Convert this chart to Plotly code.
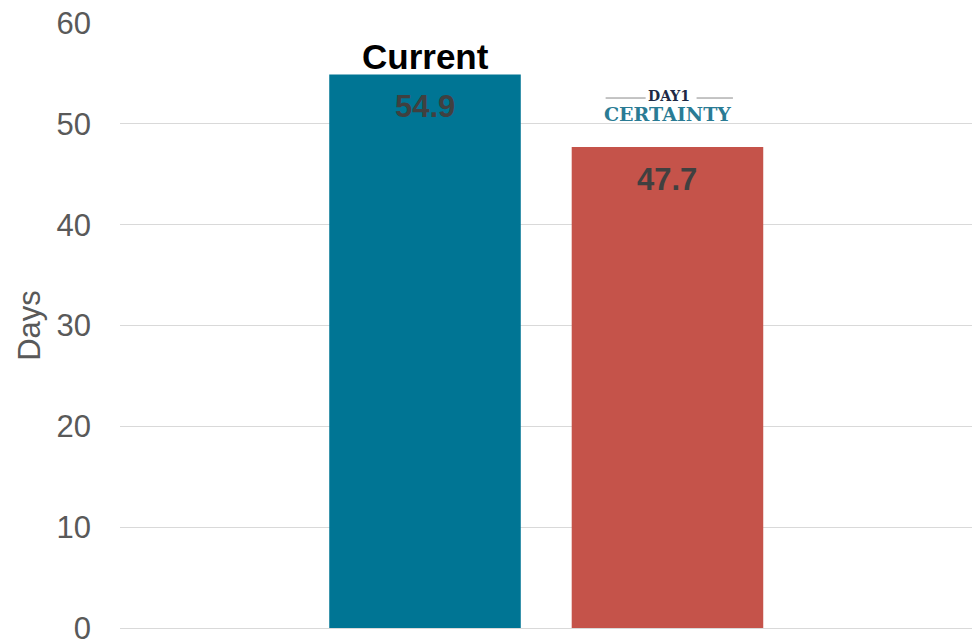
import plotly.graph_objects as go

# Average days, current process vs. Day 1 Certainty
categories = ["Current", "Day 1 Certainty"]
days = [54.9, 47.7]
bar_colors = ["#007594", "#C5534A"]
y_ticks = [0, 10, 20, 30, 40, 50, 60]

x_pos = list(range(len(categories)))

fig = go.Figure()
fig.add_trace(go.Bar(
    x=x_pos,
    y=days,
    width=0.79,
    marker=dict(color=bar_colors, line=dict(width=0)),
    hoverinfo="skip",
    showlegend=False,
))

annotations = []
# value labels inside bars, near the top
for x, v in zip(x_pos, days):
    annotations.append(dict(
        x=x, y=v, xref="x", yref="y", text=f"{v}",
        showarrow=False, yanchor="middle", yshift=-32,
        font=dict(family="Liberation Sans, Arial", size=31, color="#404040", weight="bold"),
    ))

# "Current" heading above the first bar
annotations.append(dict(
    x=x_pos[0], y=days[0], xref="x", yref="y", text="Current",
    showarrow=False, yanchor="middle", yshift=18,
    font=dict(family="Liberation Sans, Arial", size=35, color="#000000", weight="bold"),
))

# Day 1 Certainty wordmark above the second bar
annotations.append(dict(
    x=x_pos[1], y=days[1], xref="x", yref="y", text="CERTAINTY",
    showarrow=False, yanchor="middle", yshift=33, borderpad=0,
    font=dict(family="'DejaVu Serif', serif", size=19, color="#2A7B94", weight="bold"),
))
annotations.append(dict(
    x=x_pos[1] + 0.005, y=days[1], xref="x", yref="y", text="DAY1",
    showarrow=False, yanchor="middle", yshift=51, borderpad=0,
    font=dict(family="'DejaVu Serif', serif", size=14, color="#1E2A45", weight="bold"),
))

fig.update_layout(annotations=annotations)

# thin rules flanking "DAY1"
for x0, x1 in [(x_pos[1] - 0.255, x_pos[1] - 0.09), (x_pos[1] + 0.12, x_pos[1] + 0.27)]:
    fig.add_shape(type="line", xref="x", yref="y", ysizemode="pixel", yanchor=days[1],
                  x0=x0, x1=x1, y0=49, y1=49,
                  line=dict(color="#8A8A8A", width=1))

fig.update_layout(
    width=972, height=639,
    margin=dict(l=120, r=0, t=23, b=11),
    paper_bgcolor="white", plot_bgcolor="white",
    bargap=0.2,
    xaxis=dict(
        range=[-1.258, 2.256],
        showticklabels=False, showgrid=False, zeroline=False,
        fixedrange=True, automargin=False,
    ),
    yaxis=dict(
        range=[0, 60],
        tickvals=y_ticks,
        showgrid=True, gridcolor="#D9D9D9", gridwidth=1,
        zeroline=True, zerolinecolor="#D9D9D9", zerolinewidth=1,
        showline=False, ticks="",
        automargin=False,
        ticklabelstandoff=28,
        ticklabeloverflow="allow",
        tickfont=dict(family="Liberation Sans, Arial", size=31, color="#595959"),
        title=dict(text="Days", standoff=6,
                   font=dict(family="Liberation Sans, Arial", size=31, color="#595959")),
    ),
)

fig.write_html("out.html")
